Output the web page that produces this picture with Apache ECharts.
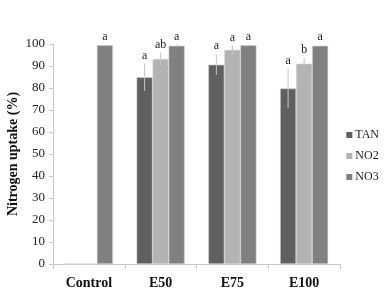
<!DOCTYPE html>
<html>
<head>
<meta charset="utf-8">
<script src="https://cdn.jsdelivr.net/npm/echarts@6/dist/echarts.min.js"></script>
<style>
  html, body { margin: 0; padding: 0; background: #fff; }
  #chart { width: 385px; height: 301px; }
</style>
</head>
<body>
<div id="chart"></div>
<script>
// values
const categories = ['Control', 'E50', 'E75', 'E100'];
const seriesNames = ['TAN', 'NO2', 'NO3'];
const tanValues = [0, 84.9, 90.6, 79.8];
const no2Values = [0, 93.2, 97.3, 91.0];
const no3Values = [99.5, 99.2, 99.4, 99.2];
const tanErrors = [0, 6.3, 4.7, 9.0];
const no2Errors = [0, 3.0, 2.0, 2.7];
const no3Errors = [0.3, 0.5, 0.4, 0.4];
const tanLetters = ['', 'a', 'a', 'a'];
const no2Letters = ['', 'ab', 'a', 'b'];
const no3Letters = ['a', 'a', 'a', 'a'];

const colors = ['#606060', '#b3b3b3', '#808080'];
const serifFont = '"Liberation Serif", "DejaVu Serif", serif';
const gapRatio = 0.33;

const allValues = [tanValues, no2Values, no3Values];
const allErrors = [tanErrors, no2Errors, no3Errors];
const allLetters = [tanLetters, no2Letters, no3Letters];

function errorSeries(idx) {
  return {
    type: 'custom',
    name: seriesNames[idx] + '-err',
    z: 5,
    data: categories.map((c, i) => [i, allValues[idx][i], allErrors[idx][i]]),
    renderItem: function (params, api) {
      const ci = api.value(0);
      const val = api.value(1);
      const err = api.value(2);
      const letter = allLetters[idx][ci];
      const band = api.size([1, 0])[0];
      const bw = band * (1 - gapRatio) / 3;
      const center = api.coord([ci, 0])[0] + (idx - 1) * bw;
      const hi = api.coord([ci, val + err])[1];
      const lo = api.coord([ci, Math.max(val - err, 0)])[1];
      const children = [];
      if (err > 0) {
        children.push({
          type: 'line',
          shape: { x1: center, y1: hi, x2: center, y2: lo },
          style: { stroke: '#c4c4c4', lineWidth: 1 }
        });
      }
      if (letter) {
        children.push({
          type: 'text',
          style: {
            x: center, y: hi - 2,
            text: letter,
            fill: '#222',
            font: '12px ' + serifFont,
            align: 'center',
            verticalAlign: 'bottom'
          }
        });
      }
      return { type: 'group', children: children };
    }
  };
}

const chart = echarts.init(document.getElementById('chart'));
chart.setOption({
  animation: false,
  grid: { left: 53, right: 45, top: 44, bottom: 37, outerBoundsMode: 'none', containLabel: false },
  legend: {
    orient: 'vertical',
    right: 1,
    top: 124,
    itemWidth: 6,
    itemHeight: 6,
    itemGap: 9,
    icon: 'rect',
    data: seriesNames,
    itemStyle: { borderWidth: 0 },
    textStyle: { fontFamily: serifFont, fontSize: 12, color: '#222', padding: [0, 0, 0, -2] }
  },
  xAxis: {
    type: 'category',
    data: categories,
    axisLine: { lineStyle: { color: '#c8c8c8' } },
    axisTick: { show: true, length: 5, lineStyle: { color: '#c8c8c8' } },
    axisLabel: {
      fontFamily: serifFont, fontSize: 14, fontWeight: 'bold', color: '#111', margin: 12
    }
  },
  yAxis: {
    type: 'value',
    min: 0,
    max: 100,
    interval: 10,
    name: 'Nitrogen uptake (%)',
    nameLocation: 'middle',
    nameGap: 33,
    nameMoveOverlap: false,
    nameTextStyle: { fontFamily: serifFont, fontSize: 14, fontWeight: 'bold', color: '#111' },
    axisLine: { show: true, lineStyle: { color: '#c8c8c8' } },
    axisTick: { show: true, length: 4, lineStyle: { color: '#c8c8c8' } },
    axisLabel: { fontFamily: serifFont, fontSize: 13, color: '#222', margin: 8 },
    splitLine: { show: false }
  },
  series: [
    ...seriesNames.map((name, idx) => ({
      name: name,
      type: 'bar',
      data: allValues[idx],
      barGap: '0%',
      barCategoryGap: '33%',
      itemStyle: { color: colors[idx], borderColor: '#d0d0d0', borderWidth: 0.6 }
    })),
    errorSeries(0),
    errorSeries(1),
    errorSeries(2)
  ]
});
</script>
</body>
</html>
